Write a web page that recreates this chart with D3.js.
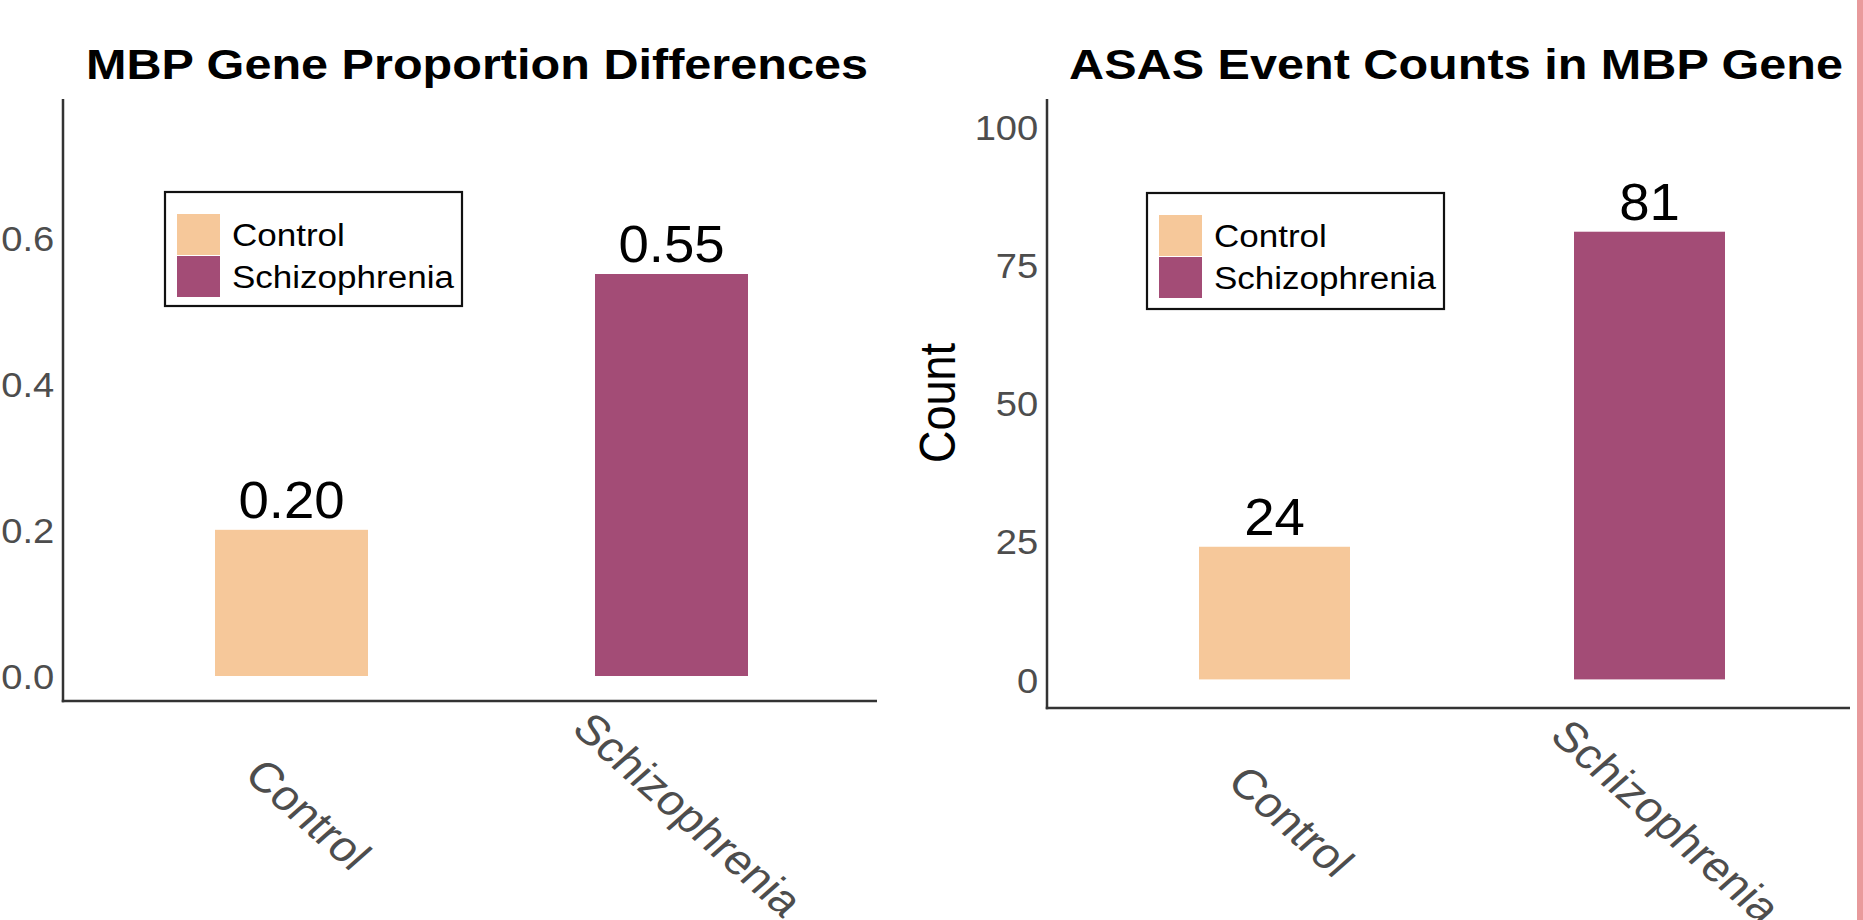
<!DOCTYPE html>
<html>
<head>
<meta charset="utf-8">
<script src="https://cdn.jsdelivr.net/npm/d3@7"></script>
<style>
  html, body { margin: 0; padding: 0; background: #ffffff; }
  svg { display: block; }
  text { font-family: "Liberation Sans", Arial, Helvetica, sans-serif; }
</style>
</head>
<body>
<svg id="fig" width="1863" height="920"></svg>
<script>
// ---- data ----
const groups = ["Control", "Schizophrenia"];
const groupColors = ["#F6C89A", "#A34C76"];
const proportionValues = [0.20, 0.55];
const countValues = [24, 81];
const proportionTicks = [0.0, 0.2, 0.4, 0.6];
const countTicks = [0, 25, 50, 75, 100];
const titles = ["MBP Gene Proportion Differences", "ASAS Event Counts in MBP Gene"];
const countAxisTitle = "Count";

// ---- layout ----
const W = 1863, H = 920;
const SX = 1.13;               // horizontal glyph stretch used for most text
const tickGrey = "#4D4D4D";
const axisColour = "#333333";

const svg = d3.select("#fig");
svg.append("rect").attr("width", W).attr("height", H).attr("fill", "#ffffff");

const color = d3.scaleOrdinal().domain(groups).range(groupColors);

function stretchedText(g, x, y, str, extra, sx) {
  return g.append("text")
    .attr("transform", `translate(${x},${y}) scale(${sx || SX},1)` + (extra || ""))
    .text(str);
}

const panels = [
  {
    values: proportionValues,
    ticks: proportionTicks,
    fmt: d3.format(".1f"),
    labelFmt: d3.format(".2f"),
    left: 63, right: 877, top: 99, bottom: 701,
    yDomain: [0, 0.55], yRange: [676, 274],
    xRange: [291.5, 671.5], barW: 153,
    title: titles[0], titleX: 477,
    legend: { x: 165, y: 192, w: 297, h: 114 },
    yTitle: null
  },
  {
    values: countValues,
    ticks: countTicks,
    fmt: d3.format("d"),
    labelFmt: d3.format("d"),
    left: 1047, right: 1850, top: 99, bottom: 708,
    yDomain: [0, 100], yRange: [679.4, 126.7],
    xRange: [1274.5, 1649.5], barW: 151,
    title: titles[1], titleX: 1456,
    legend: { x: 1147, y: 193, w: 297, h: 116 },
    yTitle: countAxisTitle
  }
];

panels.forEach(p => {
  const g = svg.append("g");
  const x = d3.scalePoint().domain(groups).range(p.xRange);
  const y = d3.scaleLinear().domain(p.yDomain).range(p.yRange);

  // bars
  g.selectAll("rect.bar")
    .data(groups.map((k, i) => ({ k, v: p.values[i] })))
    .join("rect")
    .attr("class", "bar")
    .attr("x", d => x(d.k) - p.barW / 2)
    .attr("width", p.barW)
    .attr("y", d => y(d.v))
    .attr("height", d => y(0) - y(d.v))
    .attr("fill", d => color(d.k));

  // value labels above bars
  groups.forEach((k, i) => {
    stretchedText(g, x(k), y(p.values[i]) - 12, p.labelFmt(p.values[i]), "", 1.05)
      .attr("text-anchor", "middle")
      .attr("font-size", 52)
      .attr("fill", "#000000");
  });

  // y axis tick labels
  const yAxis = d3.axisLeft(y).tickValues(p.ticks).tickFormat(p.fmt)
    .tickSize(0).tickPadding(8);
  const ya = g.append("g").attr("transform", `translate(${p.left},0)`).call(yAxis);
  ya.select(".domain").remove();
  ya.selectAll("text")
    .attr("font-size", 35)
    .attr("font-family", "'Liberation Sans', Arial, Helvetica, sans-serif")
    .attr("fill", tickGrey)
    .attr("dy", "0.36em")
    .attr("transform", `scale(1.09,1)`);

  // axis lines
  g.append("line")
    .attr("x1", p.left).attr("x2", p.left)
    .attr("y1", p.top).attr("y2", p.bottom + 1.25)
    .attr("stroke", axisColour).attr("stroke-width", 2.5);
  g.append("line")
    .attr("x1", p.left - 1.25).attr("x2", p.right)
    .attr("y1", p.bottom).attr("y2", p.bottom)
    .attr("stroke", axisColour).attr("stroke-width", 2.5);

  // x axis category labels, rotated
  groups.forEach(k => {
    stretchedText(g, x(k) + 17, p.bottom + 113, k, " rotate(45)")
      .attr("text-anchor", "middle")
      .attr("dominant-baseline", "central")
      .attr("font-size", 42)
      .attr("fill", tickGrey);
  });

  // title
  stretchedText(g, p.titleX, 79, p.title)
    .attr("text-anchor", "middle")
    .attr("font-size", 43)
    .attr("font-weight", "bold")
    .attr("fill", "#000000");

  // y axis title
  if (p.yTitle) {
    stretchedText(g, 938, 403, p.yTitle, " rotate(-90)")
      .attr("text-anchor", "middle")
      .attr("dominant-baseline", "central")
      .attr("font-size", 45)
      .attr("fill", "#000000");
  }

  // legend
  const L = p.legend;
  const lg = g.append("g").attr("transform", `translate(${L.x},${L.y})`);
  lg.append("rect")
    .attr("width", L.w).attr("height", L.h)
    .attr("fill", "#ffffff").attr("stroke", "#111111").attr("stroke-width", 2.2);
  groups.forEach((k, i) => {
    lg.append("rect")
      .attr("x", 12).attr("y", 22 + i * 42)
      .attr("width", 43).attr("height", 41)
      .attr("fill", color(k));
    stretchedText(lg, 67, 43 + i * 42, k)
      .attr("dominant-baseline", "central")
      .attr("font-size", 31)
      .attr("fill", "#000000");
  });
});

// right-hand border strip
svg.append("rect")
  .attr("x", 1857).attr("y", 0).attr("width", 6).attr("height", H)
  .attr("fill", "#E99A9C");
</script>
</body>
</html>
